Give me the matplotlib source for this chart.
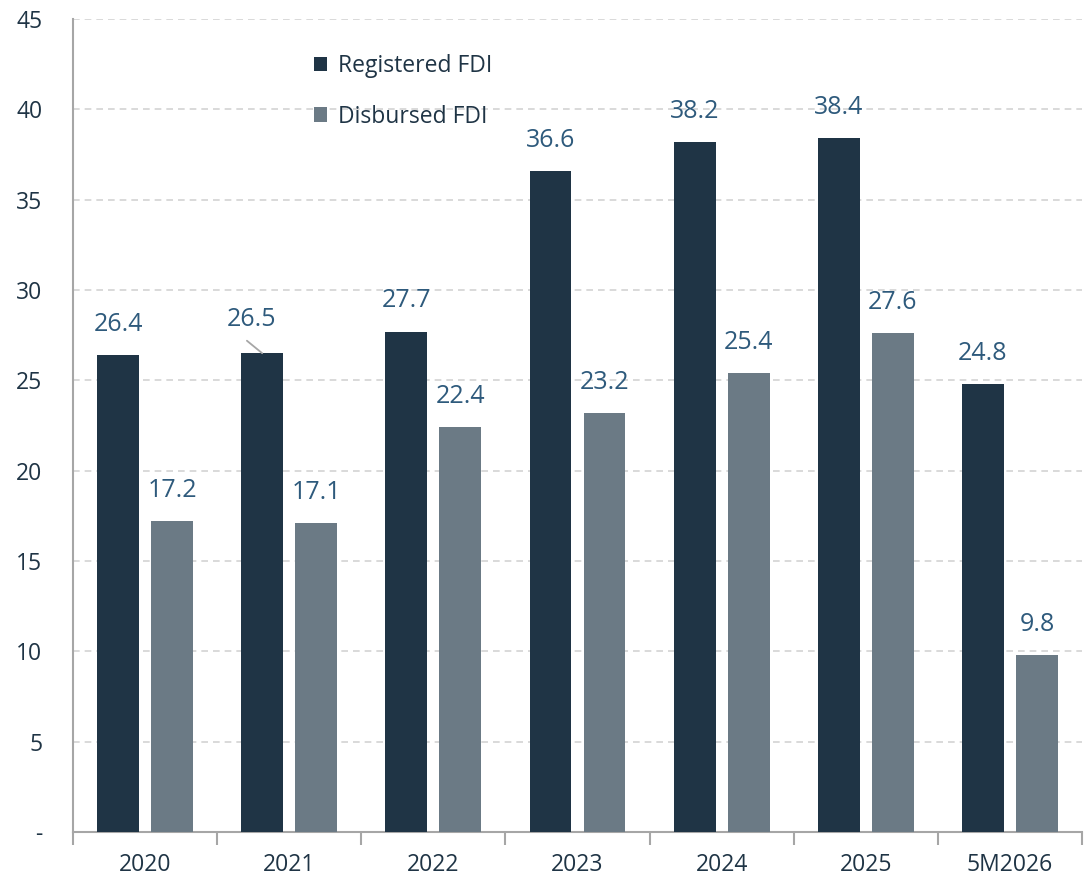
import matplotlib
matplotlib.use("Agg")
import matplotlib.pyplot as plt
import numpy as np

categories = ["2020", "2021", "2022", "2023", "2024", "2025", "5M2026"]
registered = [26.4, 26.5, 27.7, 36.6, 38.2, 38.4, 24.8]
disbursed = [17.2, 17.1, 22.4, 23.2, 25.4, 27.6, 9.8]
yticks = [0, 5, 10, 15, 20, 25, 30, 35, 40, 45]
ytick_labels = ["-", "5", "10", "15", "20", "25", "30", "35", "40", "45"]

plt.rcParams['font.family'] = ['Open Sans', 'DejaVu Sans']

dark = "#1f3445"
grey = "#6b7a85"
label_col = "#2e5a7c"
text_col = "#1f3445"

fig = plt.figure(figsize=(10.84, 8.8), dpi=100)
ax = fig.add_axes([73/1084, 48/880, (1082-73)/1084, (832-19)/880])

x = np.arange(len(categories))
w = 0.29
off = 0.1875
ax.bar(x - off, registered, w, color=dark, label="Registered FDI", zorder=3)
ax.bar(x + off, disbursed, w, color=grey, label="Disbursed FDI", zorder=3)

ax.set_xlim(-0.5, len(categories) - 0.5)
ax.set_ylim(0, 45)
ax.set_yticks(yticks)
ax.set_yticklabels(ytick_labels, fontsize=16.5, color=text_col)
ax.yaxis.grid(True, linestyle=(0, (4, 3)), color="#d3d3d3", linewidth=1.2, zorder=0)
ax.set_axisbelow(True)

ax.set_xticks(x)
ax.set_xticklabels(categories, fontsize=16.5, color=text_col)
ax.set_xticks(np.arange(len(categories) + 1) - 0.5, minor=True)
ax.tick_params(axis='x', which='major', length=0, pad=15)
ax.tick_params(axis='x', which='minor', length=9, width=1.5, color="#a6a6a6", direction='out')
ax.tick_params(axis='y', length=0, pad=22)

for s in ["top", "right"]:
    ax.spines[s].set_visible(False)
for s in ["left", "bottom"]:
    ax.spines[s].set_color("#a6a6a6")
    ax.spines[s].set_linewidth(1.5)

for i, v in enumerate(registered):
    if i == 1:
        ax.annotate(f"{v}", xy=(i - off, v), xytext=(-8, 24), textcoords="offset points",
                    ha="center", va="center", fontsize=18, color=label_col)
        ax.annotate("", xy=(i - off, v), xytext=(-11, 9), textcoords="offset points",
                    arrowprops=dict(arrowstyle="-", color="#a6a6a6", lw=1.3,
                                    shrinkA=0, shrinkB=0))
    else:
        ax.annotate(f"{v}", xy=(i - off, v), xytext=(0, 22), textcoords="offset points",
                    ha="center", va="center", fontsize=18, color=label_col)
for i, v in enumerate(disbursed):
    ax.annotate(f"{v}", xy=(i + off, v), xytext=(0, 22), textcoords="offset points",
                ha="center", va="center", fontsize=18, color=label_col)

ax.legend(loc="upper left", bbox_to_anchor=(0.218, 0.982), frameon=False,
          fontsize=16.5, handlelength=0.6, handleheight=0.6, handletextpad=0.45,
          labelspacing=1.15, labelcolor=text_col)

fig.savefig("out.png", dpi=100)
